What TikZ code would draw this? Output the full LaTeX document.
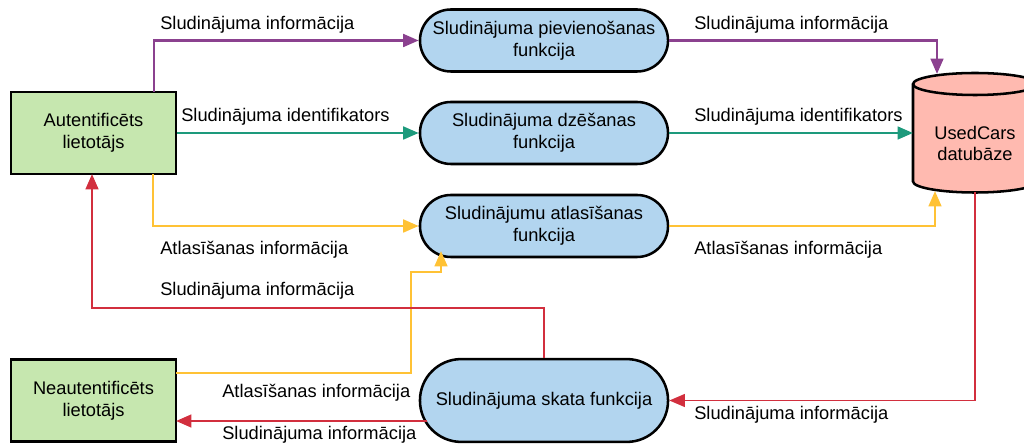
\documentclass[tikz,border=0pt]{standalone}
\usepackage{fontspec}
\setmainfont{Liberation Sans}
\usetikzlibrary{arrows.meta}

\definecolor{flowpurple}{HTML}{8B418F}
\definecolor{flowteal}{HTML}{1D9A7C}
\definecolor{flowyellow}{HTML}{FFC235}
\definecolor{flowred}{HTML}{D22F3E}
\definecolor{userfill}{HTML}{C6E7AF}
\definecolor{procfill}{HTML}{B2D5EF}
\definecolor{dbfill}{HTML}{FFBAB0}

\tikzset{
    flow/.style={line width=1.9pt, -{Triangle[length=11pt,width=9pt]}},
    lbl/.style={anchor=west, inner sep=0pt}
}

\begin{document}
\begin{tikzpicture}[x=0.025cm, y=-0.025cm, font=\fontsize{13}{15.6}\selectfont]
            \useasboundingbox (0,0) rectangle (1024,444);

            \begin{scope}[
                    every node/.style={rectangle, draw, line width=1.8pt, fill=userfill,
                        minimum width=4.125cm, minimum height=2.05cm, align=center}
                ]
                \node (aut) at (93.5,133) {Autentificēts\\lietotājs};
                \node (neaut) at (93.5,400.5) {Neautentificēts\\lietotājs};
            \end{scope}

            \begin{scope}[
                    every node/.style={rectangle, rounded corners=0.775cm, draw, line width=1.8pt,
                        fill=procfill, minimum width=6.2cm, minimum height=1.55cm, align=center, inner sep=1pt}
                ]
                \node (pAdd) at (544,40.5) {Sludinājuma pievienošanas\\funkcija};
                \node (pDel) at (544,133) {Sludinājuma dzēšanas\\funkcija};
                \node (pSel) at (544,226) {Sludinājumu atlasīšanas\\funkcija};
                \node[rounded corners=1.03cm, minimum height=2.07cm] (pView) at (544,400.5) {Sludinājuma skata funkcija};
            \end{scope}

            \path[draw, line width=1.8pt, fill=dbfill] (913,84) -- (913,181.5)
                arc[start angle=180, end angle=0, x radius=62, y radius=11] -- (1037,84)
                arc[start angle=0, end angle=-180, x radius=62, y radius=11] -- cycle;
            \draw[line width=1.8pt] (913,84) arc[start angle=180, end angle=0, x radius=62, y radius=11];
            \node[align=center] (db) at (975,143.5) {UsedCars\\datubāze};

            \coordinate (autP) at (154,92);
            \coordinate (autY) at (153,174);
            \coordinate (autR) at (92,174);
            \coordinate (neautY) at (176,373);
            \coordinate (neautR) at (176,421);
            \coordinate (dbP) at (937,74);
            \coordinate (dbT) at (913,133);
            \coordinate (dbY) at (935,191);
            \coordinate (dbR) at (975,192.5);
            \coordinate (selY) at (441,251);
            \coordinate (viewL) at (427,421);
            \coordinate (bendY) at (411,272);
            \coordinate (bendR) at (92,308);

            \draw[flow, flowpurple] (autP) |- (pAdd.west);
            \draw[flow, flowpurple] (pAdd.east) -| (dbP);
            \draw[flow, flowteal] (aut.east) -- (pDel.west);
            \draw[flow, flowteal] (pDel.east) -- (dbT);
            \draw[flow, flowyellow] (autY) |- (pSel.west);
            \draw[flow, flowyellow] (pSel.east) -| (dbY);
            \draw[flow, flowyellow] (neautY) -| (bendY) -| (selY);
            \draw[flow, flowred] (pView.north) |- (bendR) -- (autR);
            \draw[flow, flowred, line width=1.3pt] (dbR) |- (pView.east);
            \draw[flow, flowred] (viewL) -- (neautR);

            \node[lbl] (l1) at (160,24.5) {Sludinājuma informācija};
            \node[lbl] (l2) at (694,24.5) {Sludinājuma informācija};
            \node[lbl] (l3) at (181,117) {Sludinājuma identifikators};
            \node[lbl] (l4) at (694,116.5) {Sludinājuma identifikators};
            \node[lbl] (l5) at (160,249.5) {Atlasīšanas informācija};
            \node[lbl] (l6) at (694,250) {Atlasīšanas informācija};
            \node[lbl] (l7) at (160,290.5) {Sludinājuma informācija};
            \node[lbl] (l8) at (222,393) {Atlasīšanas informācija};
            \node[lbl] (l9) at (222,435) {Sludinājuma informācija};
            \node[lbl] (l10) at (694,414.5) {Sludinājuma informācija};

        \end{tikzpicture}
\end{document}
